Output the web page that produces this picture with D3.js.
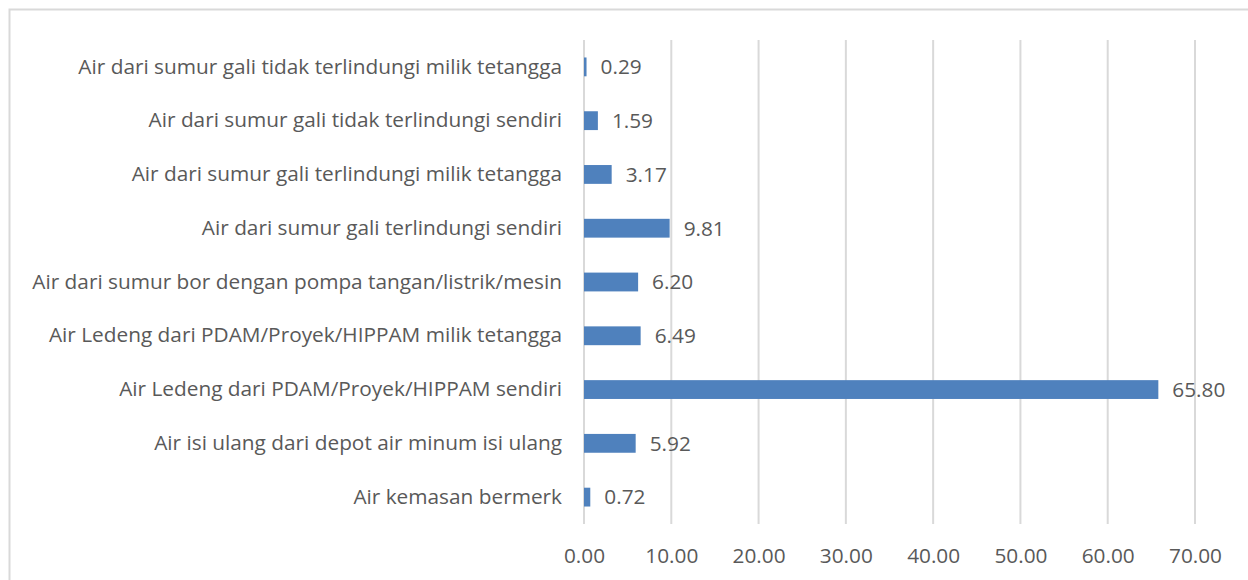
<!DOCTYPE html>
<html>
<head>
<meta charset="utf-8">
<script src="https://cdn.jsdelivr.net/npm/d3@7"></script>
<style>
  body { margin: 0; background: #fff; }
  text { font-family: "Open Sans", Lato, sans-serif; fill: #595959; }
</style>
</head>
<body>
<div id="chart"></div>
<script>
// Data (top to bottom)
var categories = [
    "Air dari sumur gali tidak terlindungi milik tetangga",
    "Air dari sumur gali tidak terlindungi sendiri",
    "Air dari sumur gali terlindungi milik tetangga",
    "Air dari sumur gali terlindungi sendiri",
    "Air dari sumur bor dengan pompa tangan/listrik/mesin",
    "Air Ledeng dari PDAM/Proyek/HIPPAM milik tetangga",
    "Air Ledeng dari PDAM/Proyek/HIPPAM sendiri",
    "Air isi ulang dari depot air minum isi ulang",
    "Air kemasan bermerk"
];
var values = [0.29, 1.59, 3.17, 9.81, 6.20, 6.49, 65.80, 5.92, 0.72];
var ticks = [0, 10, 20, 30, 40, 50, 60, 70];

var W = 1248, H = 580;
var margin = {top: 40, right: 53, bottom: 56, left: 584};
var width = W - margin.left - margin.right,
    height = H - margin.top - margin.bottom;
var fontSize = "20.8px";

var svg = d3.select("#chart").append("svg")
    .attr("width", W)
    .attr("height", H);

// chart border
svg.append("rect")
    .attr("x", 9.5).attr("y", 9.5)
    .attr("width", W + 20).attr("height", H + 20)
    .attr("fill", "none")
    .attr("stroke", "#d9d9d9")
    .attr("stroke-width", 2);

var g = svg.append("g")
    .attr("transform", "translate(" + margin.left + "," + margin.top + ")");

var x = d3.scaleLinear().domain([0, 70]).range([0, width]);
var y = d3.scaleBand().domain(categories).range([0, height]).paddingInner(0.65).paddingOuter(0.325);

// grid
g.selectAll(".grid")
    .data(ticks)
    .enter().append("line")
    .attr("class", "grid")
    .attr("x1", d => x(d)).attr("x2", d => x(d))
    .attr("y1", 0).attr("y2", height)
    .attr("stroke", "#d9d9d9")
    .attr("stroke-width", 2);

// x axis
var xAxis = d3.axisBottom(x).tickValues(ticks).tickSize(0).tickPadding(24)
    .tickFormat(d3.format(".2f"));
var ax = g.append("g")
    .attr("transform", "translate(0," + height + ")")
    .call(xAxis);
ax.select(".domain").remove();
ax.selectAll("text").style("font-size", fontSize).attr("fill", "#595959");

// y labels
var yAxis = d3.axisLeft(y).tickSize(0).tickPadding(22);
var ay = g.append("g").call(yAxis);
ay.select(".domain").remove();
ay.selectAll("text").style("font-size", fontSize).attr("fill", "#595959");

// bars
g.selectAll(".bar")
    .data(values)
    .enter().append("rect")
    .attr("class", "bar")
    .attr("x", 0)
    .attr("y", (d, i) => y(categories[i]))
    .attr("width", d => x(d))
    .attr("height", y.bandwidth())
    .attr("fill", "#4f81bd");

// value labels
g.selectAll(".val")
    .data(values)
    .enter().append("text")
    .attr("class", "val")
    .attr("x", d => x(d) + 14)
    .attr("y", (d, i) => y(categories[i]) + y.bandwidth() / 2)
    .attr("dy", "0.35em")
    .style("font-size", fontSize)
    .text(d => d3.format(".2f")(d));
</script>
</body>
</html>
